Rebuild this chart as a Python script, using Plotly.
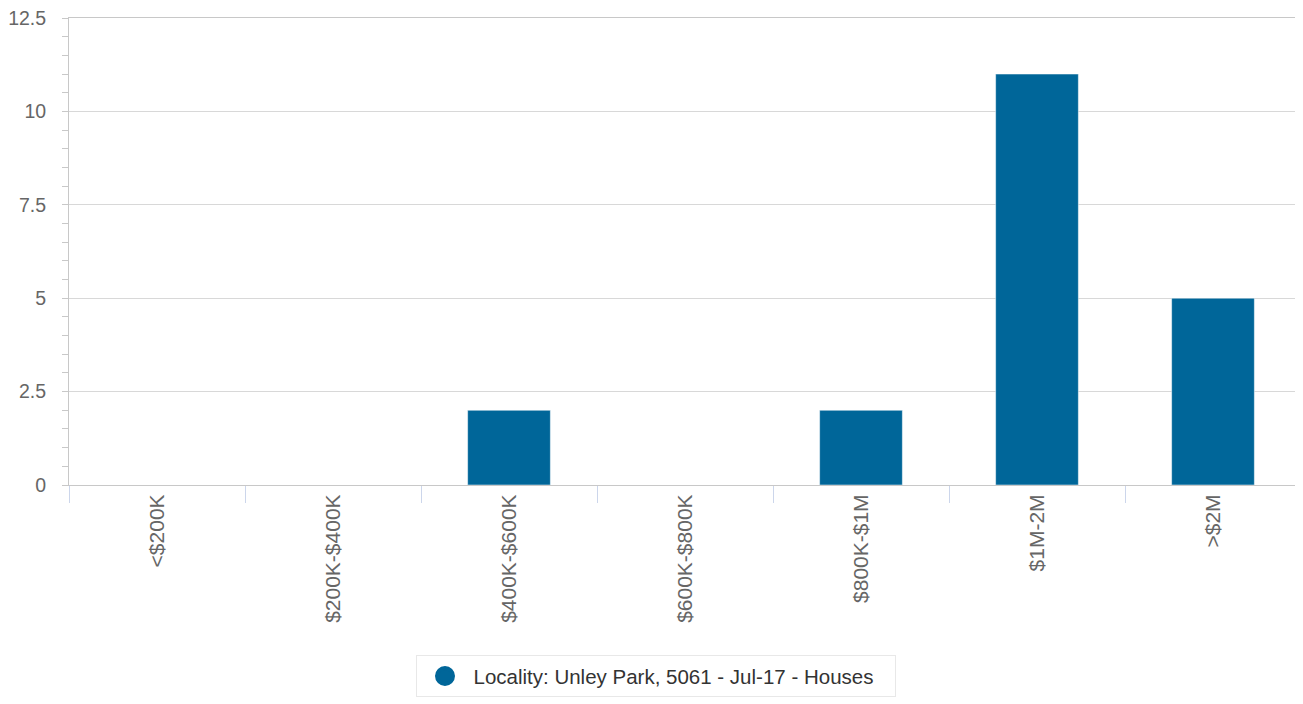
import plotly.graph_objects as go

categories = ["<$200K", "$200K-$400K", "$400K-$600K", "$600K-$800K", "$800K-$1M", "$1M-2M", ">$2M"]
values = [0, 0, 2, 0, 2, 11, 5]
series_name = "Locality: Unley Park, 5061 - Jul-17 - Houses"
y_ticks = [0, 2.5, 5, 7.5, 10, 12.5]
y_ticklabels = ["0", "2.5", "5", "7.5", "10", "12.5"]

BAR = "#006699"
FONT = "Liberation Sans, Arial, sans-serif"

fig = go.Figure()
fig.add_trace(go.Bar(
    x=categories, y=values, marker=dict(color=BAR, line=dict(color="#ffffff", width=0.5)),
    showlegend=False, hoverinfo="x+y",
))
fig.add_trace(go.Scatter(
    x=[categories[0]], y=[None], mode="markers", name=series_name,
    marker=dict(symbol="circle", size=16, color=BAR, line=dict(color=BAR, width=4)),
    showlegend=True,
))

fig.update_layout(
    width=1295, height=696,
    margin=dict(l=61, r=2, t=10, b=219),
    paper_bgcolor="white", plot_bgcolor="white",
    font=dict(family=FONT, color="#666666", size=19),
    bargap=0.53,
    xaxis=dict(
        type="category", categoryorder="array", categoryarray=categories,
        showline=True, linecolor="#c8c8c8", linewidth=1, mirror=True,
        ticks="outside", tickson="boundaries", ticklen=17, tickcolor="#ccd6eb", tickwidth=1,
        tickangle=-90, tickfont=dict(size=21, color="#666666"),
        showgrid=False, zeroline=False, automargin=False,
    ),
    yaxis=dict(
        range=[0, 12.5], tickvals=y_ticks, ticktext=y_ticklabels,
        showline=True, linecolor="#c8c8c8", linewidth=1,
        ticks="outside", ticklen=6, tickcolor="#c8c8c8",
        minor=dict(dtick=0.5, ticks="outside", ticklen=6, tickcolor="#c8c8c8", showgrid=False),
        showgrid=True, gridcolor="#d8d8d8", gridwidth=1,
        zeroline=False, tickfont=dict(size=19.5, color="#666666"),
        ticklabelstandoff=12, automargin=False, ticklabeloverflow="allow",
    ),
    legend=dict(
        orientation="h", xref="container", yref="container",
        x=0.5, xanchor="center", y=0.04, yanchor="middle",
        bordercolor="#e8e8e8", borderwidth=1, bgcolor="white",
        font=dict(size=20.5, color="#333333", family=FONT),
        itemwidth=47, entrywidth=416,
    ),
)

fig.write_html("out.html")
